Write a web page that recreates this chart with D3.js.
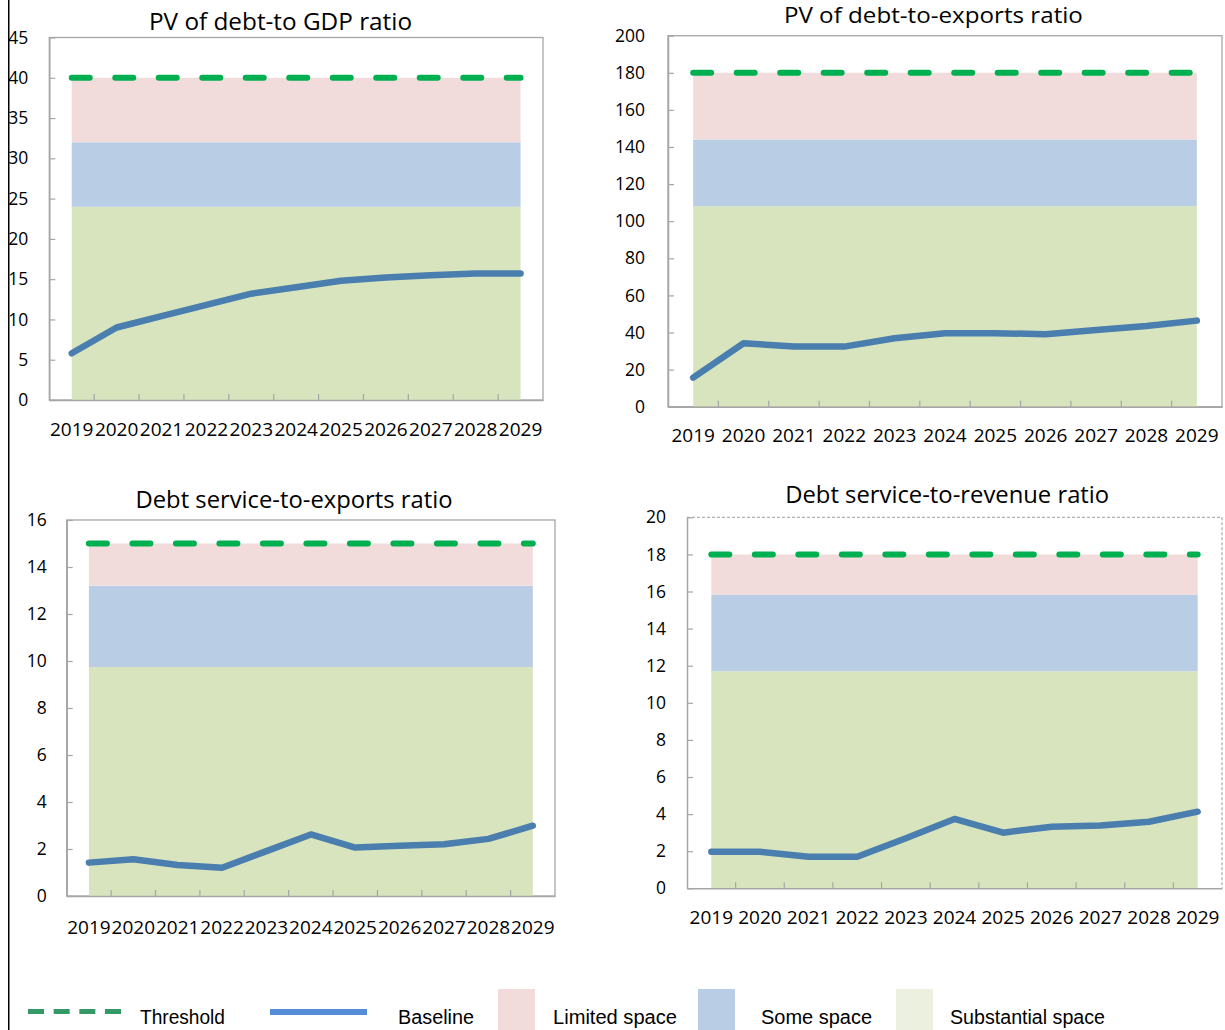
<!DOCTYPE html>
<html>
<head>
<meta charset="utf-8">
<script src="https://cdn.jsdelivr.net/npm/d3@7"></script>
<style>
  html, body { margin: 0; padding: 0; background: #fff; }
  svg { display: block; }
</style>
</head>
<body>
<svg id="chart" width="1225" height="1030"></svg>
<script>
// ---------------- DATA ----------------
const years = ['2019','2020','2021','2022','2023','2024','2025','2026','2027','2028','2029'];

const titles = [
  'PV of debt-to GDP ratio',
  'PV of debt-to-exports ratio',
  'Debt service-to-exports ratio',
  'Debt service-to-revenue ratio'
];

// Baseline series
const pvDebtGdpBaseline     = [5.8, 9.0, 10.4, 11.8, 13.2, 14.0, 14.8, 15.2, 15.5, 15.7, 15.7];
const pvDebtExportsBaseline = [15.7, 34.2, 32.4, 32.4, 36.9, 39.6, 39.6, 39.1, 41.4, 43.5, 46.4];
const dsExportsBaseline     = [1.42, 1.56, 1.32, 1.2, 1.91, 2.62, 2.06, 2.14, 2.2, 2.43, 2.99];
const dsRevenueBaseline     = [1.97, 1.97, 1.7, 1.7, 2.7, 3.74, 3.0, 3.32, 3.38, 3.59, 4.13];

// Thresholds and space bands
const thresholds        = [40, 180, 15, 18];
const substantialTop    = [24, 108, 9.75, 11.7];   // substantial space: 0 .. this
const someSpaceTop      = [32, 144, 13.2, 15.84];  // some space: substantialTop .. this
// limited space: someSpaceTop .. threshold

// Y tick labels
const yTicksGdp       = [0, 5, 10, 15, 20, 25, 30, 35, 40, 45];
const yTicksExports   = [0, 20, 40, 60, 80, 100, 120, 140, 160, 180, 200];
const yTicksDsExports = [0, 2, 4, 6, 8, 10, 12, 14, 16];
const yTicksDsRevenue = [0, 2, 4, 6, 8, 10, 12, 14, 16, 18, 20];

const legendLabels = ['Threshold', 'Baseline', 'Limited space', 'Some space', 'Substantial space'];

// ---------------- STYLE / LAYOUT ----------------
const COL = {
  limited: '#F2DCDB', some: '#B9CDE5', substantial: '#D7E4BD',
  substantialLegend: '#EBF1DE',
  threshold: '#00B050', thresholdLegend: '#339966',
  baseline: '#4A7EAE', baselineLegend: '#558ED5',
  axis: '#A6A6A6'
};

const baselines = [pvDebtGdpBaseline, pvDebtExportsBaseline, dsExportsBaseline, dsRevenueBaseline];
const yTickSets = [yTicksGdp, yTicksExports, yTicksDsExports, yTicksDsRevenue];

const layout = [
  {l: 49.3, r: 543,  t: 37.5,  b: 400,   ypad: 21, xpad: 23,   tx: 280.5, ty: 30,    tw: 263, tfs: 23, dashedBorder: false},
  {l: 668,  r: 1222, t: 35.7,  b: 406.7, ypad: 23, xpad: 22,   tx: 933.4, ty: 22.6,  tw: 299, tfs: 21, dashedBorder: false},
  {l: 66.7, r: 555,  t: 520,   b: 896,   ypad: 20, xpad: 24.5, tx: 294,   ty: 508.3, tw: 317, tfs: 23, dashedBorder: false},
  {l: 687,  r: 1222, t: 517.3, b: 888.3, ypad: 21, xpad: 22.5, tx: 947.2, ty: 502.7, tw: 324, tfs: 23, dashedBorder: true}
];

const svg = d3.select('#chart');
const FONT = "'Open Sans', 'Noto Sans', sans-serif";

layout.forEach((L, i) => {
  const g = svg.append('g');
  const x = d3.scaleBand().domain(years).range([L.l, L.r]).padding(0);
  const cx = d => x(d) + x.bandwidth() / 2;
  const yTicks = yTickSets[i];
  const y = d3.scaleLinear().domain([0, d3.max(yTicks)]).range([L.b, L.t]);

  // Plot border
  if (!L.dashedBorder) {
    g.append('rect').attr('x', L.l).attr('y', L.t).attr('width', L.r - L.l).attr('height', L.b - L.t)
      .attr('fill', 'none').attr('stroke', COL.axis).attr('stroke-width', 1.3);
  } else {
    g.append('path').attr('d', `M${L.l},${L.t}H${L.r}V${L.b}`)
      .attr('fill', 'none').attr('stroke', '#B0B0B0').attr('stroke-width', 1.3)
      .attr('stroke-dasharray', '3,2');
  }

  // Stacked space bands (area chart from first to last category)
  const bands = [
    {lo: () => 0,                 hi: () => substantialTop[i], fill: COL.substantial},
    {lo: () => substantialTop[i], hi: () => someSpaceTop[i],   fill: COL.some},
    {lo: () => someSpaceTop[i],   hi: () => thresholds[i],     fill: COL.limited}
  ];
  bands.forEach(bd => {
    const area = d3.area().x(d => cx(d)).y0(() => y(bd.lo())).y1(() => y(bd.hi()));
    g.append('path').datum(years).attr('d', area).attr('fill', bd.fill);
  });

  // Threshold dashed line
  const thrLine = d3.line().x(d => cx(d)).y(() => y(thresholds[i]));
  g.append('path').datum(years).attr('d', thrLine)
    .attr('fill', 'none').attr('stroke', COL.threshold).attr('stroke-width', 6)
    .attr('stroke-dasharray', '18,25.5').attr('stroke-linecap', 'round');

  // Baseline
  const baseLine = d3.line().x((d, k) => cx(years[k])).y(d => y(d));
  g.append('path').datum(baselines[i]).attr('d', baseLine)
    .attr('fill', 'none').attr('stroke', COL.baseline).attr('stroke-width', 6.5)
    .attr('stroke-linecap', 'round').attr('stroke-linejoin', 'round');

  // Y axis (ticks inside)
  const yAxis = g.append('g').attr('transform', `translate(${L.l},0)`)
    .call(d3.axisLeft(y).tickValues(yTicks).tickSizeInner(-6).tickSizeOuter(0).tickPadding(L.ypad));
  yAxis.select('.domain').attr('stroke', COL.axis).attr('stroke-width', 1.5);
  yAxis.selectAll('.tick line').attr('stroke', COL.axis).attr('stroke-width', 1.2);
  yAxis.selectAll('.tick text')
    .attr('font-family', FONT).attr('font-size', 17.5).attr('fill', '#000');

  // X axis (labels at category centres, ticks between categories, inside)
  const xAxis = g.append('g').attr('transform', `translate(0,${L.b})`)
    .call(d3.axisBottom(x).tickSize(0).tickPadding(L.xpad));
  xAxis.select('.domain').attr('stroke', COL.axis).attr('stroke-width', 1.5);
  xAxis.selectAll('.tick text')
    .attr('font-family', FONT).attr('font-size', 19).attr('fill', '#000');
  g.append('g').selectAll('line').data(years.slice(1)).join('line')
    .attr('x1', d => x(d)).attr('x2', d => x(d))
    .attr('y1', L.b).attr('y2', L.b - 6)
    .attr('stroke', COL.axis).attr('stroke-width', 1.2);

  // Title
  g.append('text').attr('x', L.tx).attr('y', L.ty).attr('text-anchor', 'middle')
    .attr('font-family', FONT).attr('font-size', L.tfs).attr('fill', '#000')
    .attr('textLength', L.tw).attr('lengthAdjust', 'spacingAndGlyphs')
    .text(titles[i]);
});

// ---------------- LEGEND ----------------
const LFONT = "'Liberation Sans', Arial, sans-serif";
const leg = svg.append('g');
leg.append('line').attr('x1', 28).attr('x2', 121).attr('y1', 1011.5).attr('y2', 1011.5)
  .attr('stroke', COL.thresholdLegend).attr('stroke-width', 5).attr('stroke-dasharray', '16,9.67');
leg.append('line').attr('x1', 270).attr('x2', 367).attr('y1', 1012).attr('y2', 1012)
  .attr('stroke', COL.baselineLegend).attr('stroke-width', 6);
const swatches = [
  {x: 498, fill: COL.limited},
  {x: 698, fill: COL.some},
  {x: 896, fill: COL.substantialLegend}
];
leg.selectAll('rect').data(swatches).join('rect')
  .attr('x', d => d.x).attr('y', 989).attr('width', 37).attr('height', 42).attr('fill', d => d.fill);
const legText = [
  {x: 140, w: 85}, {x: 398, w: 76}, {x: 553, w: 124}, {x: 761, w: 111}, {x: 950, w: 155}
];
leg.selectAll('text').data(legendLabels).join('text')
  .attr('x', (d, k) => legText[k].x).attr('y', 1024)
  .attr('font-family', LFONT).attr('font-size', 20).attr('fill', '#000')
  .attr('textLength', (d, k) => legText[k].w).attr('lengthAdjust', 'spacingAndGlyphs')
  .text(d => d);

// Left frame edge
svg.append('rect').attr('x', 0).attr('y', 0).attr('width', 8).attr('height', 1030).attr('fill', '#fff');
svg.append('line').attr('x1', 8.75).attr('x2', 8.75).attr('y1', 0).attr('y2', 1030)
  .attr('stroke', '#000').attr('stroke-width', 1.5);
</script>
</body>
</html>
